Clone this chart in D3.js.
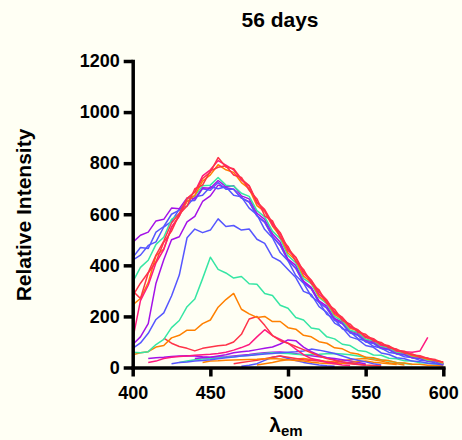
<!DOCTYPE html>
<html>
<head>
<meta charset="utf-8">
<script src="https://cdn.jsdelivr.net/npm/d3@7"></script>
<style>
  body { margin: 0; background: #fffff4; }
  svg { display: block; }
  text { font-family: Arial, "Liberation Sans", Helvetica, sans-serif; font-weight: bold; }
</style>
</head>
<body>
<svg></svg>
<script>
// spectres d'emission, 56 jours
var canevas = d3.select("svg")
  .attr("width", 462)
  .attr("height", 440)

// longueurs d'onde (nm)
var longueurs = [400, 405, 410, 415, 420, 425, 430, 435, 440, 445, 450, 455, 460, 465, 470, 475, 480, 485, 490, 495,
  500, 505, 510, 515, 520, 525, 530, 535, 540, 545, 550, 555, 560, 565, 570, 575, 580, 585, 590, 595, 600]

var ticksX = [400, 450, 500, 550, 600]
var ticksY = [0, 200, 400, 600, 800, 1000, 1200]

// courbes basses (dessinees en premier)
var orangeD = [null, null, null, null, null, null, null, null, null, null, null, null, null, null, null, null, 10, 15, 20, 26, 30, 33, 35, 31, 28, 24, 22, 26, 30, 33, 35, 30, 25, 19, 15, 10, null, null, null, null, null]
var bleuD = [null, null, null, null, null, null, null, null, null, null, null, null, null, null, 5, 9, 15, 28, 40, 45, 35, 27, 20, 15, 10, 7, 5, null, null, null, null, null, null, null, null, null, null, null, null, null, null]
var rougeD = [null, null, null, null, null, null, null, null, null, null, null, null, null, 15, 20, 24, 28, 34, 40, 45, 40, 35, 30, 27, 25, 22, 20, 17, 15, 12, 10, null, null, null, null, null, null, null, null, null, null]
var violetD = [null, null, 35, 38, 40, 43, 45, 46, 45, 42, 40, 41, 42, 45, 48, 51, 55, 58, 60, 61, 58, 54, 50, 46, 42, 38, 35, 30, 25, 20, 15, null, null, null, null, null, null, null, null, null, null]
var turquoiseC = [null, null, null, null, null, null, 20, 25, 30, 33, 35, 37, 40, 42, 45, 48, 52, 55, 58, 56, 55, 52, 50, 51, 52, 54, 55, 53, 50, 45, 40, 35, 30, 25, 20, 16, 12, null, null, null, null]
var orangeC = [null, null, null, null, null, null, null, null, null, 20, 25, 26, 28, 29, 30, 31, 32, 34, 35, 33, 30, 27, 25, 21, 18, 16, 15, 17, 20, 23, 25, 21, 18, 15, 12, null, null, null, null, null, null]
var bleuC = [null, null, null, null, null, 15, 20, 22, 25, 27, 30, 34, 38, 41, 45, 47, 50, 53, 55, 58, 60, 62, 65, 72, 68, 62, 55, 45, 35, 28, 22, 15, 10, null, null, null, null, null, null, null, null]
var roseC = [null, null, 20, 25, 35, 40, 43, 45, 48, 50, 52, 55, 60, 68, 78, 90, 120, 148, 125, 110, 95, 72, 50, 35, 28, 20, 15, 10, 8, null, null, null, null, null, null, null, null, null, null, null, null]
var violetC = [null, null, null, null, null, null, null, null, 35, 38, 40, 45, 50, 58, 62, 65, 70, 75, 80, 92, 108, 105, 80, 62, 48, 38, 30, 22, 18, 14, 10, null, null, null, null, null, null, null, null, null, null]
var rougeC = [null, null, null, null, 115, 95, 82, 75, 65, 75, 80, 85, 88, 100, 130, 190, 200, 165, 125, 105, 95, 82, 70, 58, 45, 35, 28, 22, 17, 13, 10, 8, 6, null, null, null, null, null, null, null, null]

// courbes intermediaires
var orangeB = [50, 58, 62, 80, 86, 116, 126, 146, 146, 172, 186, 236, 266, 290, 228, 210, 196, 200, 180, 180, 156, 150, 126, 120, 101, 95, 77, 73, 58, 53, 40, 38, 29, 27, 19, 18, 13, 13, 9, 9, 6]
var turquoiseB = [60, 58, 62, 90, 110, 156, 184, 238, 268, 348, 432, 384, 370, 350, 356, 328, 326, 290, 282, 244, 232, 196, 186, 155, 150, 120, 112, 91, 86, 67, 63, 49, 48, 36, 34, 26, 25, 19, 18, 14, 12]
var bleuB = [75, 96, 134, 188, 214, 280, 362, 508, 542, 528, 538, 582, 552, 556, 538, 542, 502, 486, 432, 416, 384, 352, 298, 286, 238, 216, 174, 156, 120, 110, 86, 79, 57, 51, 38, 34, 25, 23, 17, 15, 10]

// faisceau principal
var violet2 = [90, 120, 172, 330, 422, 500, 512, 570, 592, 650, 672, 714, 704, 698, 664, 648, 594, 568, 514, 478, 420, 388, 332, 308, 255, 232, 186, 172, 137, 128, 102, 96, 75, 71, 54, 51, 38, 36, 25, 23, 14]
var bleu2 = [420, 440, 478, 492, 550, 572, 620, 632, 668, 674, 708, 700, 708, 674, 668, 624, 598, 540, 508, 450, 418, 360, 330, 278, 256, 208, 190, 152, 141, 113, 104, 83, 76, 59, 55, 42, 39, 28, 25, 18, 13]
var bleu1 = [430, 470, 466, 530, 552, 600, 616, 652, 654, 700, 694, 724, 698, 698, 664, 648, 594, 570, 512, 480, 418, 390, 332, 310, 255, 233, 186, 171, 135, 126, 100, 94, 74, 69, 53, 50, 38, 35, 25, 23, 14]
var violet1 = [490, 518, 530, 574, 580, 624, 622, 664, 660, 704, 702, 732, 708, 712, 672, 660, 604, 580, 524, 490, 424, 400, 338, 314, 261, 240, 192, 177, 143, 134, 108, 101, 79, 74, 57, 54, 40, 37, 26, 24, 14]
var turquoise1 = [335, 392, 420, 482, 510, 580, 600, 662, 672, 712, 714, 744, 714, 710, 682, 670, 614, 590, 534, 504, 438, 410, 348, 328, 274, 250, 200, 182, 146, 137, 111, 105, 83, 77, 60, 57, 44, 40, 28, 26, 15]
var orange1 = [245, 270, 332, 438, 464, 548, 594, 650, 674, 730, 754, 794, 774, 764, 724, 700, 634, 610, 554, 514, 448, 420, 358, 334, 278, 256, 207, 190, 154, 144, 117, 109, 88, 82, 64, 61, 46, 42, 31, 28, 17]
var rose1 = [110, 262, 322, 410, 462, 550, 592, 660, 688, 750, 774, 810, 792, 774, 734, 710, 644, 614, 558, 524, 458, 430, 368, 340, 286, 262, 212, 195, 158, 146, 118, 111, 87, 83, 65, 62, 60, 65, 118, null, null]
var rouge2 = [300, 270, 370, 414, 490, 534, 600, 632, 700, 714, 770, 784, 790, 754, 744, 694, 660, 594, 574, 508, 474, 414, 384, 328, 304, 250, 228, 184, 170, 138, 130, 104, 98, 77, 72, 56, 53, 40, 37, 26, 22]
var rouge1 = [280, 330, 372, 440, 495, 566, 604, 662, 686, 740, 765, 822, 785, 778, 738, 712, 648, 618, 565, 528, 465, 432, 376, 342, 296, 264, 218, 196, 162, 148, 122, 113, 92, 85, 68, 64, 49, 46, 35, 31, 20]

var couleurs = {
  bleu: "#5656ff",
  violet: "#a412e8",
  turquoise: "#36e6a4",
  orange: "#ff8000",
  rose: "#ff1a80",
  rouge: "#ff3348"
}

var series = [
  [orangeD, couleurs.orange],
  [bleuD, couleurs.bleu],
  [rougeD, couleurs.rouge],
  [violetD, couleurs.violet],
  [turquoiseC, couleurs.turquoise],
  [orangeC, couleurs.orange],
  [bleuC, couleurs.bleu],
  [roseC, couleurs.rose],
  [violetC, couleurs.violet],
  [rougeC, couleurs.rouge],
  [orangeB, couleurs.orange],
  [turquoiseB, couleurs.turquoise],
  [bleuB, couleurs.bleu],
  [violet2, couleurs.violet],
  [bleu2, couleurs.bleu],
  [bleu1, couleurs.bleu],
  [violet1, couleurs.violet],
  [turquoise1, couleurs.turquoise],
  [orange1, couleurs.orange],
  [rose1, couleurs.rose],
  [rouge2, couleurs.rouge],
  [rouge1, couleurs.rouge]
]

var x = d3.scaleLinear().domain([400, 600]).range([132.7, 443.3])
var y = d3.scaleLinear().domain([0, 1200]).range([367.5, 61])

var ligne = d3.line()
  .defined(function(d){ return d[1] != null })
  .x(function(d){ return x(d[0]) })
  .y(function(d){ return y(d[1]) })

// courbes
var zone = canevas.append("g")
for (let i = 0; i < series.length; i++){
  var pts = longueurs.map(function(l, j){ return [l, series[i][0][j]] })
  zone.append("path")
    .attr("d", ligne(pts))
    .attr("style", "fill:none;stroke:" + series[i][1] + ";stroke-width:1.5;stroke-linejoin:round")
}

// axes
var axeX = canevas.append("g")
  .attr("transform", "translate(0," + y(0) + ")")
  .call(d3.axisBottom(x).tickValues(ticksX).tickSize(9).tickSizeOuter(0).tickPadding(6).tickFormat(d3.format("d")))
var axeY = canevas.append("g")
  .attr("transform", "translate(" + x(400) + ",0)")
  .call(d3.axisLeft(y).tickValues(ticksY).tickSize(9).tickSizeOuter(0).tickPadding(4).tickFormat(d3.format("d")))

canevas.selectAll(".domain").attr("style", "stroke:black;stroke-width:3.5;stroke-linecap:square")
canevas.selectAll(".tick line").attr("style", "stroke:black;stroke-width:3.5")
canevas.selectAll(".tick text")
  .attr("fill", "black")
  .style("font-size", "18px")
  .style("font-weight", "bold")
axeX.selectAll(".tick text").attr("dy", "0.9em")

// titre
canevas.append("text")
  .text("56 days")
  .attr("x", 280)
  .attr("y", 27)
  .attr("text-anchor", "middle")
  .style("font-size", "21px")

// titre axe y
canevas.append("text")
  .text("Relative Intensity")
  .attr("transform", "translate(31,215) rotate(-90)")
  .attr("text-anchor", "middle")
  .style("font-size", "21px")

// titre axe x : lambda em
var lx = canevas.append("text")
  .attr("x", 286)
  .attr("y", 432)
  .attr("text-anchor", "middle")
  .style("font-size", "21px")
lx.append("tspan").text("λ")
lx.append("tspan").text("em").attr("dy", 4).style("font-size", "15px")
</script>
</body>
</html>
